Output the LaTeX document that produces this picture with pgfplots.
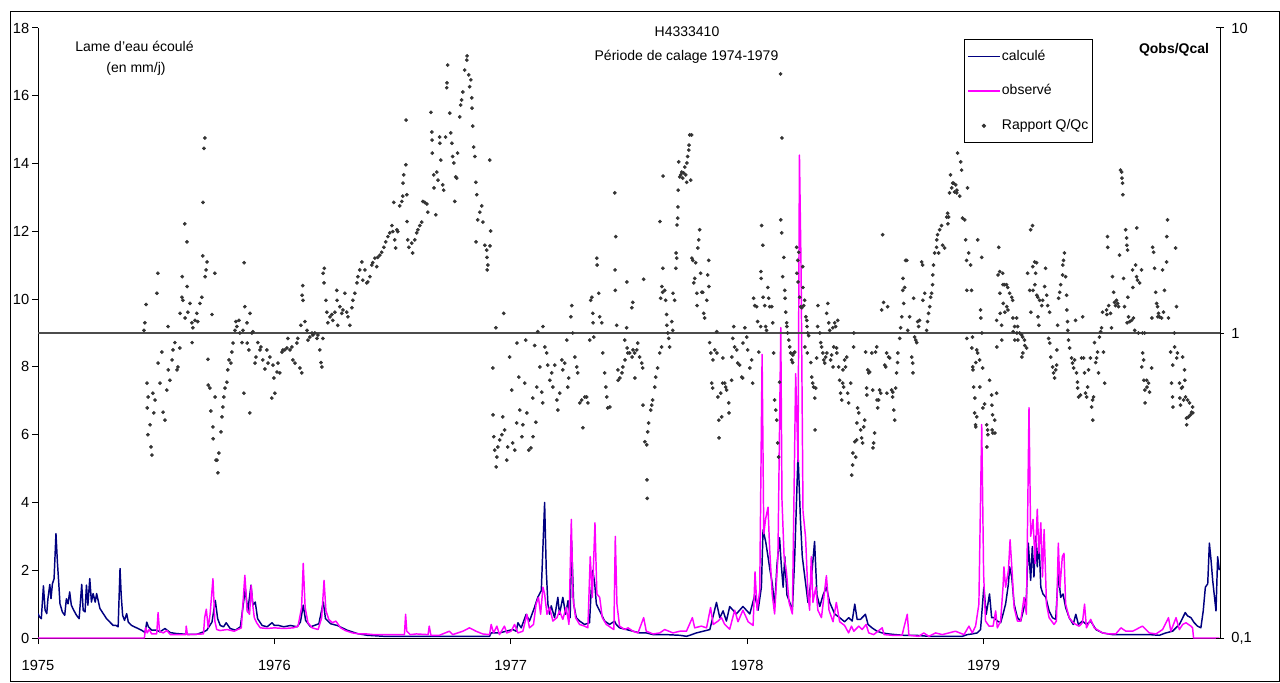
\documentclass[border=0pt]{standalone}
\usepackage{fontspec}
\setmainfont{Liberation Sans}
\usepackage{pgfplots}
\usepackage{pgfplotstable}
\pgfplotsset{compat=1.18}
\definecolor{calc}{HTML}{000080}
\definecolor{obs}{HTML}{FF00FF}
\definecolor{dots}{HTML}{333333}

\pgfplotstableread{
x y
1975.000 0.72
1975.007 0.62
1975.014 0.57
1975.023 1.54
1975.030 0.82
1975.037 0.72
1975.042 1.16
1975.050 1.58
1975.055 1.16
1975.061 1.60
1975.068 1.75
1975.076 3.08
1975.082 2.25
1975.088 1.60
1975.093 1.01
1975.103 0.77
1975.113 0.67
1975.120 1.16
1975.127 1.01
1975.134 1.36
1975.141 0.97
1975.151 0.82
1975.163 0.67
1975.174 0.57
1975.185 1.58
1975.191 0.82
1975.199 0.77
1975.205 1.56
1975.211 0.97
1975.219 1.75
1975.226 1.06
1975.233 1.31
1975.242 1.06
1975.248 1.31
1975.256 1.06
1975.262 0.87
1975.276 0.72
1975.290 0.57
1975.304 0.47
1975.318 0.37
1975.330 0.37
1975.339 0.33
1975.347 2.05
1975.352 1.26
1975.358 0.67
1975.366 0.52
1975.375 0.72
1975.382 0.47
1975.396 0.37
1975.417 0.30
1975.438 0.23
1975.453 0.16
1975.460 0.47
1975.467 0.33
1975.481 0.23
1975.502 0.23
1975.516 0.18
1975.537 0.28
1975.559 0.16
1975.587 0.13
1975.629 0.11
1975.672 0.11
1975.700 0.18
1975.714 0.23
1975.736 0.47
1975.750 1.11
1975.760 0.57
1975.771 0.37
1975.785 0.33
1975.796 0.45
1975.813 0.28
1975.835 0.23
1975.856 0.33
1975.877 1.46
1975.887 0.77
1975.901 1.56
1975.909 0.97
1975.919 1.06
1975.929 0.57
1975.948 0.37
1975.969 0.33
1975.990 0.45
1976.000 0.37
1976.018 0.37
1976.040 0.33
1976.068 0.37
1976.096 0.33
1976.110 0.47
1976.122 0.97
1976.132 0.52
1976.153 0.33
1976.188 0.42
1976.207 1.06
1976.216 0.57
1976.238 0.42
1976.266 0.37
1976.308 0.23
1976.351 0.13
1976.393 0.08
1976.464 0.05
1976.613 0.05
1976.910 0.05
1976.917 0.15
1976.952 0.15
1976.980 0.20
1977.008 0.25
1977.023 0.20
1977.030 0.45
1977.044 0.30
1977.065 0.70
1977.079 0.50
1977.100 0.90
1977.114 1.20
1977.129 1.40
1977.143 4.00
1977.150 2.00
1977.157 1.00
1977.164 0.70
1977.171 0.95
1977.185 0.60
1977.199 1.20
1977.206 0.70
1977.220 1.20
1977.232 0.70
1977.242 1.10
1977.251 0.60
1977.257 2.85
1977.266 1.00
1977.277 0.60
1977.291 0.50
1977.312 0.40
1977.333 0.45
1977.340 1.40
1977.347 2.00
1977.355 1.60
1977.362 1.00
1977.376 0.80
1977.397 0.50
1977.418 0.40
1977.439 0.50
1977.446 0.40
1977.460 0.30
1977.489 0.25
1977.517 0.20
1977.545 0.15
1977.573 0.15
1977.602 0.10
1977.658 0.10
1977.715 0.08
1977.743 0.05
1977.757 0.08
1977.785 0.15
1977.814 0.20
1977.842 0.25
1977.870 1.05
1977.884 0.60
1977.898 0.80
1977.912 0.50
1977.926 0.93
1977.940 0.82
1977.954 0.71
1977.982 0.93
1978.011 0.71
1978.032 1.27
1978.046 0.82
1978.060 1.50
1978.067 3.19
1978.078 2.85
1978.088 2.40
1978.095 2.06
1978.106 1.61
1978.116 0.93
1978.126 2.17
1978.137 2.96
1978.144 2.17
1978.152 1.50
1978.159 2.40
1978.168 1.27
1978.180 1.05
1978.191 0.82
1978.201 2.40
1978.215 5.44
1978.225 3.52
1978.233 2.40
1978.243 1.84
1978.257 1.05
1978.271 1.72
1978.285 2.85
1978.295 1.27
1978.307 0.93
1978.321 1.27
1978.335 1.50
1978.349 1.05
1978.370 0.71
1978.391 0.60
1978.412 0.48
1978.429 0.60
1978.444 0.50
1978.455 1.00
1978.465 0.55
1978.479 0.55
1978.500 0.70
1978.511 0.40
1978.528 0.30
1978.549 0.20
1978.571 0.15
1978.599 0.12
1978.627 0.10
1978.662 0.08
1978.712 0.08
1978.768 0.05
1978.839 0.05
1978.910 0.05
1978.931 0.10
1978.952 0.12
1978.973 0.15
1978.987 0.25
1979.001 1.50
1979.011 0.70
1979.025 1.30
1979.034 0.60
1979.044 0.60
1979.058 0.50
1979.072 0.45
1979.082 0.70
1979.093 1.00
1979.105 1.60
1979.110 2.10
1979.119 1.80
1979.129 1.00
1979.143 0.60
1979.157 0.50
1979.171 0.90
1979.181 1.20
1979.189 2.80
1979.199 1.70
1979.206 2.70
1979.213 1.80
1979.220 3.00
1979.227 2.10
1979.234 2.90
1979.242 1.50
1979.251 1.30
1979.263 1.20
1979.277 0.80
1979.291 0.60
1979.305 0.55
1979.316 1.90
1979.326 1.20
1979.336 1.30
1979.347 0.90
1979.362 0.60
1979.379 0.40
1979.390 0.70
1979.401 0.40
1979.418 0.50
1979.435 0.40
1979.453 0.50
1979.475 0.25
1979.503 0.15
1979.545 0.10
1979.588 0.10
1979.644 0.10
1979.701 0.10
1979.743 0.08
1979.771 0.15
1979.799 0.20
1979.828 0.40
1979.853 0.75
1979.863 0.65
1979.877 0.60
1979.891 0.45
1979.905 0.35
1979.919 0.30
1979.929 0.80
1979.938 1.50
1979.948 1.60
1979.955 2.80
1979.962 2.30
1979.969 1.70
1979.983 0.80
1979.990 2.40
1979.997 2.00
}\calcdata

\pgfplotstableread{
x y
1975.000 0.00
1975.450 0.00
1975.455 0.30
1975.462 0.15
1975.470 0.25
1975.481 0.12
1975.502 0.12
1975.508 0.75
1975.514 0.20
1975.530 0.15
1975.545 0.22
1975.560 0.10
1975.625 0.10
1975.627 0.35
1975.632 0.10
1975.700 0.12
1975.705 0.60
1975.712 0.85
1975.720 0.30
1975.728 0.70
1975.740 1.75
1975.748 0.50
1975.756 0.25
1975.770 0.22
1975.800 0.25
1975.830 0.20
1975.860 0.30
1975.875 1.85
1975.885 0.80
1975.895 0.70
1975.902 1.55
1975.908 1.00
1975.915 0.60
1975.925 0.45
1975.940 0.30
1975.970 0.28
1976.000 0.30
1976.040 0.28
1976.080 0.30
1976.100 0.35
1976.115 0.90
1976.122 2.20
1976.130 0.90
1976.142 0.45
1976.160 0.30
1976.185 0.25
1976.200 0.60
1976.210 1.70
1976.218 0.80
1976.230 0.55
1976.245 0.45
1976.260 0.50
1976.280 0.30
1976.300 0.22
1976.330 0.15
1976.360 0.12
1976.390 0.12
1976.420 0.10
1976.550 0.10
1976.555 0.70
1976.560 0.20
1976.575 0.10
1976.600 0.12
1976.650 0.10
1976.655 0.35
1976.662 0.08
1976.698 0.08
1976.740 0.20
1976.754 0.10
1976.797 0.20
1976.825 0.30
1976.853 0.20
1976.881 0.12
1976.910 0.10
1976.917 0.40
1976.927 0.15
1976.941 0.35
1976.952 0.10
1976.973 0.35
1976.983 0.15
1977.001 0.20
1977.016 0.40
1977.030 0.15
1977.051 0.20
1977.068 0.70
1977.079 0.30
1977.096 0.40
1977.107 1.00
1977.117 1.20
1977.126 0.70
1977.136 1.50
1977.143 1.30
1977.153 0.70
1977.164 0.90
1977.178 0.50
1977.195 0.60
1977.206 0.80
1977.220 0.55
1977.234 0.90
1977.246 0.40
1977.256 3.50
1977.263 1.20
1977.274 0.60
1977.291 0.40
1977.312 0.35
1977.326 0.30
1977.336 2.40
1977.345 1.20
1977.356 3.40
1977.364 1.30
1977.376 1.20
1977.387 0.60
1977.404 0.40
1977.425 0.30
1977.436 0.25
1977.442 3.00
1977.449 1.00
1977.460 0.35
1977.482 0.25
1977.496 0.30
1977.517 0.20
1977.538 0.15
1977.562 0.60
1977.573 0.20
1977.602 0.12
1977.630 0.15
1977.651 0.25
1977.686 0.15
1977.715 0.20
1977.743 0.20
1977.768 0.60
1977.778 0.30
1977.806 0.35
1977.828 0.30
1977.845 0.90
1977.856 0.40
1977.877 0.50
1977.891 0.60
1977.905 0.40
1977.926 0.26
1977.947 0.82
1977.961 0.48
1977.982 0.82
1978.004 0.48
1978.025 0.37
1978.033 1.95
1978.042 0.82
1978.053 1.39
1978.063 8.37
1978.070 3.07
1978.078 3.52
1978.088 3.86
1978.095 2.62
1978.106 1.27
1978.116 0.71
1978.130 2.40
1978.142 9.16
1978.147 4.09
1978.156 2.40
1978.166 1.95
1978.177 1.05
1978.191 0.71
1978.205 7.80
1978.215 5.20
1978.221 14.25
1978.228 10.80
1978.236 3.75
1978.247 2.96
1978.257 1.27
1978.264 0.82
1978.271 2.40
1978.278 1.05
1978.290 1.50
1978.299 0.82
1978.314 0.60
1978.335 1.84
1978.346 0.82
1978.363 0.48
1978.377 1.05
1978.391 0.48
1978.412 0.37
1978.429 0.15
1978.441 0.35
1978.451 0.20
1978.472 0.35
1978.486 0.25
1978.503 0.40
1978.514 0.15
1978.535 0.10
1978.571 0.30
1978.579 0.10
1978.613 0.08
1978.655 0.08
1978.677 0.70
1978.684 0.08
1978.726 0.05
1978.747 0.15
1978.768 0.05
1978.797 0.15
1978.825 0.10
1978.853 0.15
1978.881 0.20
1978.917 0.10
1978.938 0.35
1978.952 0.15
1978.966 0.35
1978.980 1.00
1978.992 6.30
1979.000 1.90
1979.008 0.50
1979.023 0.35
1979.040 0.35
1979.051 0.80
1979.058 0.30
1979.072 0.50
1979.082 1.50
1979.086 2.10
1979.093 1.50
1979.105 2.00
1979.112 2.90
1979.121 1.90
1979.129 0.90
1979.143 0.50
1979.157 0.50
1979.171 1.20
1979.181 0.70
1979.192 6.80
1979.199 3.00
1979.209 3.50
1979.218 2.20
1979.227 3.80
1979.234 2.50
1979.242 3.40
1979.249 1.80
1979.256 3.20
1979.266 1.00
1979.277 0.60
1979.298 0.40
1979.308 0.50
1979.316 2.80
1979.323 1.50
1979.333 2.40
1979.340 2.50
1979.347 1.00
1979.362 0.60
1979.379 0.45
1979.390 0.40
1979.404 0.35
1979.418 0.45
1979.427 1.00
1979.435 0.30
1979.453 0.55
1979.468 0.30
1979.503 0.15
1979.531 0.12
1979.559 0.12
1979.581 0.30
1979.602 0.20
1979.630 0.20
1979.658 0.30
1979.672 0.35
1979.701 0.15
1979.729 0.12
1979.757 0.25
1979.782 0.60
1979.792 0.20
1979.814 0.60
1979.828 0.25
1979.842 0.40
1979.856 0.45
1979.877 0.35
1979.884 0.30
1979.888 0.00
1979.997 0.00
}\obsdata

\pgfplotstableread{
x r
1975.452 1.08
1975.448 1.02
1975.457 1.24
1975.461 0.685
1975.462 0.568
1975.465 0.464
1975.478 0.423
1975.482 0.398
1975.474 0.50
1975.466 0.617
1975.486 0.635
1975.495 0.603
1975.490 0.547
1975.503 1.35
1975.507 1.57
1975.508 0.797
1975.516 0.685
1975.524 0.866
1975.529 0.55
1975.537 0.518
1975.545 0.65
1975.550 1.05
1975.551 0.757
1975.558 0.70
1975.567 0.816
1975.571 0.88
1975.579 0.93
1975.588 0.757
1975.592 0.774
1975.600 0.893
1975.601 1.16
1975.609 1.31
1975.610 1.53
1975.613 1.28
1975.622 1.12
1975.621 2.28
1975.630 1.99
1975.631 1.42
1975.634 1.17
1975.643 1.25
1975.651 1.08
1975.652 0.93
1975.655 1.04
1975.664 1.10
1975.672 1.16
1975.676 1.09
1975.685 1.25
1975.693 1.31
1975.698 2.68
1975.702 4.03
1975.706 4.36
1975.697 1.79
1975.707 1.53
1975.715 1.71
1975.711 1.61
1975.736 1.15
1975.748 1.57
1975.719 0.82
1975.720 0.675
1975.727 0.66
1975.731 0.555
1975.740 0.492
1975.741 0.45
1975.749 0.617
1975.753 0.383
1975.757 0.383
1975.761 0.348
1975.765 0.404
1975.774 0.474
1975.778 0.531
1975.782 0.572
1975.786 0.617
1975.791 0.66
1975.799 0.69
1975.803 0.757
1975.808 0.816
1975.816 0.797
1975.820 0.866
1975.825 0.927
1975.833 1.02
1975.837 1.09
1975.841 1.05
1975.850 1.10
1975.854 1.00
1975.863 0.93
1975.867 1.02
1975.871 0.635
1975.872 1.70
1975.875 1.22
1975.884 1.08
1975.885 0.927
1975.892 0.88
1975.896 0.547
1975.897 1.16
1975.905 1.00
1975.909 1.01
1975.918 0.797
1975.922 0.834
1975.930 0.93
1975.939 0.88
1975.943 0.90
1975.951 0.816
1975.960 0.762
1975.968 0.88
1975.973 0.797
1975.981 0.834
1975.989 0.612
1975.994 0.785
1975.998 0.712
1976.002 0.635
1976.011 0.745
1976.015 0.797
1976.023 0.74
1976.032 0.866
1976.036 0.88
1976.044 0.88
1976.053 0.893
1976.057 0.96
1976.066 0.88
1976.074 0.90
1976.078 0.816
1976.087 0.797
1976.095 0.927
1976.099 0.96
1976.108 0.768
1976.116 0.74
1976.112 1.06
1976.117 1.33
1976.120 1.43
1976.121 1.28
1976.129 1.09
1976.138 1.02
1976.142 0.948
1976.150 0.97
1976.159 1.00
1976.163 0.985
1976.171 1.00
1976.180 0.96
1976.184 0.985
1976.192 0.88
1976.197 0.80
1976.201 0.774
1976.205 0.96
1976.206 1.57
1976.210 1.46
1976.211 1.63
1976.218 1.28
1976.222 1.17
1976.226 1.08
1976.235 1.13
1976.243 1.15
1976.247 1.10
1976.256 1.17
1976.264 1.38
1976.265 1.28
1976.268 1.06
1976.277 1.22
1976.285 1.16
1976.290 1.19
1976.298 1.35
1976.306 1.17
1976.311 1.13
1976.319 1.06
1976.328 1.21
1976.332 1.28
1976.340 1.35
1976.349 1.46
1976.353 1.53
1976.361 1.61
1976.370 1.71
1976.374 1.49
1976.383 1.61
1976.391 1.46
1976.395 1.47
1976.404 1.53
1976.412 1.67
1976.416 1.70
1976.425 1.76
1976.433 1.65
1976.437 1.77
1976.446 1.80
1976.454 1.84
1976.463 1.91
1976.471 1.99
1976.480 2.07
1976.488 2.13
1976.497 2.25
1976.501 2.15
1976.509 2.02
1976.513 1.90
1976.518 2.18
1976.522 2.15
1976.505 2.68
1976.530 2.61
1976.539 2.70
1976.543 2.81
1976.544 3.10
1976.547 3.30
1976.556 3.56
1976.557 4.99
1976.560 2.84
1976.561 2.32
1976.564 2.02
1976.569 1.91
1976.581 1.97
1976.585 1.83
1976.594 2.02
1976.602 2.13
1976.607 2.18
1976.615 2.25
1976.623 2.31
1976.628 2.70
1976.636 2.68
1976.645 2.65
1976.649 2.49
1976.662 5.29
1976.666 4.56
1976.667 4.29
1976.668 3.89
1976.674 3.30
1976.675 2.99
1976.683 2.44
1976.687 3.37
1976.692 3.17
1976.699 4.39
1976.700 4.19
1976.704 3.69
1976.712 3.06
1976.716 2.94
1976.724 4.39
1976.729 6.37
1976.730 6.61
1976.733 7.56
1976.742 5.26
1976.746 4.53
1976.751 4.19
1976.754 3.79
1976.759 3.61
1976.763 2.70
1976.767 3.25
1976.771 3.22
1976.775 3.89
1976.784 5.11
1976.788 5.59
1976.792 5.81
1976.797 6.17
1976.805 7.28
1976.814 7.85
1976.815 8.10
1976.822 7.02
1976.826 6.42
1976.831 6.76
1976.835 5.90
1976.836 5.46
1976.839 4.77
1976.843 4.07
1976.848 3.79
1976.852 3.12
1976.856 2.84
1976.853 1.99
1976.860 2.35
1976.869 2.49
1976.877 2.61
1976.882 2.31
1976.890 1.94
1976.898 1.87
1976.899 1.77
1976.903 1.67
1976.911 3.69
1976.915 2.16
1976.912 1.93
1976.900 1.61
1976.924 0.768
1976.925 0.539
1976.937 1.04
1976.928 0.457
1976.932 0.413
1976.941 0.392
1976.938 0.364
1976.945 0.423
1976.953 0.446
1976.962 0.464
1976.966 0.531
1976.970 1.16
1976.974 0.481
1976.983 0.383
1976.987 0.423
1976.995 0.834
1977.004 0.65
1977.008 0.436
1977.017 0.413
1977.025 0.507
1977.026 0.927
1977.034 0.717
1977.038 0.559
1977.047 0.457
1977.051 0.50
1977.059 0.685
1977.063 0.948
1977.068 0.547
1977.076 0.413
1977.085 0.42
1977.093 0.612
1977.094 0.457
1977.101 0.91
1977.106 0.51
1977.110 0.665
1977.114 1.01
1977.123 0.774
1977.131 0.64
1977.135 0.59
1977.136 1.05
1977.144 0.90
1977.152 0.86
1977.156 0.785
1977.165 0.70
1977.173 0.74
1977.178 0.665
1977.186 0.785
1977.195 0.603
1977.199 0.559
1977.207 0.635
1977.216 0.816
1977.220 0.757
1977.228 0.797
1977.237 0.948
1977.241 0.665
1977.245 0.712
1977.254 1.13
1977.258 1.23
1977.262 1.00
1977.271 0.834
1977.279 0.774
1977.283 0.74
1977.292 0.59
1977.300 0.603
1977.305 0.489
1977.313 0.617
1977.321 0.617
1977.326 0.59
1977.334 0.948
1977.338 1.28
1977.343 1.31
1977.347 1.16
1977.348 1.08
1977.351 0.97
1977.364 1.76
1977.365 1.67
1977.372 1.35
1977.376 1.13
1977.385 1.08
1977.389 0.86
1977.397 0.74
1977.402 0.665
1977.406 0.617
1977.410 0.568
1977.419 0.572
1977.440 2.88
1977.444 2.07
1977.441 1.61
1977.442 1.38
1977.448 1.06
1977.453 0.757
1977.454 0.70
1977.490 1.04
1977.491 1.47
1977.512 1.21
1977.516 1.26
1977.482 0.948
1977.492 0.893
1977.495 0.86
1977.483 0.816
1977.474 0.774
1977.470 0.74
1977.461 0.712
1977.503 0.86
1977.513 0.834
1977.517 0.88
1977.524 0.86
1977.533 0.88
1977.537 0.927
1977.545 0.834
1977.554 0.797
1977.558 0.768
1977.525 0.712
1977.559 0.58
1977.562 1.50
1977.567 0.44
1977.575 0.43
1977.579 0.474
1977.583 0.507
1977.592 0.559
1977.596 0.58
1977.600 0.603
1977.576 0.33
1977.577 0.287
1977.609 0.665
1977.613 0.717
1977.621 0.768
1977.630 0.86
1977.638 0.90
1977.643 1.63
1977.644 3.27
1977.631 2.32
1977.634 1.30
1977.639 1.42
1977.642 1.36
1977.651 1.38
1977.655 1.28
1977.659 1.15
1977.660 1.06
1977.664 1.00
1977.668 0.96
1977.672 0.90
1977.681 1.09
1977.685 1.02
1977.686 1.35
1977.693 1.28
1977.698 1.63
1977.699 1.83
1977.702 1.76
1977.703 2.26
1977.706 2.38
1977.707 2.59
1977.708 2.94
1977.710 3.64
1977.715 3.25
1977.719 3.30
1977.723 3.37
1977.727 3.22
1977.731 3.35
1977.736 3.50
1977.740 3.30
1977.744 3.12
1977.745 3.61
1977.748 3.79
1977.753 3.98
1977.754 4.13
1977.757 4.46
1977.765 4.46
1977.761 3.17
1977.766 1.76
1977.770 1.73
1977.774 1.46
1977.778 1.51
1977.782 1.70
1977.787 1.35
1977.788 1.23
1977.791 1.90
1977.795 2.02
1977.799 2.18
1977.803 1.57
1977.808 1.36
1977.812 1.36
1977.816 1.16
1977.820 1.12
1977.829 1.28
1977.833 1.55
1977.837 1.73
1977.838 1.42
1977.841 0.93
1977.846 0.86
1977.850 0.685
1977.854 0.66
1977.855 0.816
1977.863 0.88
1977.871 1.01
1977.872 0.86
1977.880 0.518
1977.881 0.453
1977.876 0.617
1977.888 0.635
1977.892 0.531
1977.896 0.685
1977.905 0.685
1977.909 0.665
1977.913 0.65
1977.922 0.59
1977.923 0.547
1977.897 0.828
1977.934 0.70
1977.935 0.834
1977.939 0.96
1977.943 1.05
1977.947 0.90
1977.956 0.88
1977.960 0.797
1977.968 0.785
1977.977 0.717
1977.981 0.712
1977.982 0.927
1977.990 1.04
1977.998 0.97
1978.002 0.88
1978.011 0.768
1978.019 0.816
1978.023 0.685
1978.027 1.30
1978.032 1.23
1978.040 1.22
1978.044 1.09
1978.049 0.866
1978.057 1.05
1978.061 2.25
1978.066 1.94
1978.058 1.59
1978.059 1.51
1978.067 1.31
1978.074 1.23
1978.078 1.05
1978.082 1.02
1978.087 1.41
1978.091 1.30
1978.095 1.22
1978.104 1.22
1978.108 1.08
1978.112 0.86
1978.116 0.603
1978.121 0.559
1978.125 0.518
1978.129 0.436
1978.133 0.392
1978.137 0.69
1978.142 2.35
1978.146 2.13
1978.141 7.07
1978.147 4.36
1978.150 1.53
1978.155 1.77
1978.159 1.38
1978.160 1.30
1978.163 1.17
1978.167 1.08
1978.168 1.05
1978.171 1.00
1978.176 0.948
1978.180 0.90
1978.184 0.86
1978.188 0.816
1978.192 0.80
1978.193 0.847
1978.197 0.86
1978.201 0.866
1978.209 1.91
1978.210 1.57
1978.214 1.73
1978.215 1.47
1978.218 1.84
1978.222 1.31
1978.226 1.22
1978.231 1.21
1978.235 1.65
1978.236 1.41
1978.239 1.23
1978.243 1.28
1978.248 1.13
1978.252 1.10
1978.253 1.05
1978.256 1.00
1978.244 0.90
1978.254 0.86
1978.260 0.98
1978.269 0.80
1978.273 0.717
1978.277 0.685
1978.281 0.665
1978.286 0.612
1978.287 0.481
1978.290 0.66
1978.294 0.828
1978.298 1.05
1978.299 1.23
1978.307 1.00
1978.311 0.93
1978.315 0.90
1978.320 0.86
1978.324 0.816
1978.328 0.797
1978.332 0.834
1978.336 1.16
1978.337 0.86
1978.341 1.25
1978.345 1.08
1978.349 1.02
1978.353 0.816
1978.357 0.847
1978.362 1.04
1978.363 0.774
1978.366 0.90
1978.370 1.08
1978.374 1.05
1978.378 0.893
1978.379 0.86
1978.383 1.10
1978.387 0.774
1978.391 0.70
1978.395 0.635
1978.400 0.603
1978.404 0.685
1978.405 0.757
1978.408 0.665
1978.412 0.816
1978.416 0.774
1978.421 0.834
1978.425 0.635
1978.429 0.59
1978.438 0.685
1978.442 0.342
1978.446 0.369
1978.447 0.404
1978.450 0.90
1978.451 1.00
1978.455 0.44
1978.459 0.392
1978.463 0.446
1978.464 0.507
1978.467 0.568
1978.472 0.547
1978.480 0.481
1978.484 0.453
1978.488 0.436
1978.493 0.492
1978.497 0.518
1978.501 0.866
1978.505 0.66
1978.506 0.626
1978.510 0.757
1978.514 0.74
1978.518 0.745
1978.527 0.86
1978.531 0.65
1978.532 0.42
1978.535 0.436
1978.539 0.47
1978.543 0.866
1978.548 0.90
1978.549 0.603
1978.552 0.568
1978.556 0.603
1978.560 0.65
1978.565 0.635
1978.569 1.19
1978.573 2.10
1978.577 1.26
1978.582 0.785
1978.586 0.774
1978.590 0.86
1978.591 0.635
1978.594 1.22
1978.598 0.834
1978.603 0.828
1978.611 0.65
1978.615 0.617
1978.616 0.64
1978.620 0.559
1978.624 0.518
1978.628 0.66
1978.632 0.74
1978.636 0.80
1978.637 0.86
1978.645 0.96
1978.649 1.04
1978.654 1.13
1978.658 1.38
1978.659 1.51
1978.662 1.25
1978.666 1.41
1978.670 1.73
1978.675 1.73
1978.679 1.02
1978.687 1.13
1978.696 0.834
1978.700 0.797
1978.701 0.74
1978.704 1.30
1978.708 0.97
1978.713 0.948
1978.717 0.93
1978.721 1.09
1978.725 1.05
1978.729 1.10
1978.738 1.71
1978.742 1.67
1978.743 1.28
1978.751 1.35
1978.759 1.02
1978.763 1.09
1978.767 1.16
1978.772 1.22
1978.776 1.31
1978.780 1.35
1978.784 1.44
1978.785 1.55
1978.788 1.67
1978.793 1.83
1978.801 1.91
1978.802 2.02
1978.805 2.10
1978.810 1.83
1978.814 2.18
1978.822 2.25
1978.827 1.94
1978.835 1.90
1978.844 2.40
1978.848 2.47
1978.849 2.28
1978.852 2.40
1978.856 2.88
1978.860 3.30
1978.865 2.99
1978.869 3.10
1978.873 3.10
1978.877 2.90
1978.882 3.06
1978.886 2.88
1978.887 2.94
1978.890 3.89
1978.899 2.81
1978.903 3.64
1978.907 3.42
1978.911 2.38
1978.920 2.35
1978.924 2.02
1978.928 1.73
1978.929 1.38
1978.932 2.99
1978.937 1.83
1978.945 1.67
1978.949 1.38
1978.953 0.97
1978.954 0.774
1978.958 0.665
1978.962 0.547
1978.966 0.50
1978.971 0.88
1978.975 2.02
1978.992 1.77
1978.987 1.19
1978.988 1.12
1978.993 1.00
1978.929 0.96
1978.950 0.893
1978.975 0.86
1978.983 0.816
1978.967 0.80
1978.955 0.757
1978.996 0.768
1978.984 0.665
1978.963 0.612
1979.025 0.70
1979.034 0.626
1979.004 0.585
1978.997 0.568
1979.055 0.635
1979.035 0.58
1978.971 0.531
1979.038 0.539
1979.047 0.518
1978.967 0.492
1979.013 0.50
1979.017 0.481
1979.036 0.481
1979.039 0.47
1979.018 0.464
1979.014 0.423
1979.048 0.47
1979.064 1.91
1979.061 1.55
1979.068 1.59
1979.081 1.57
1979.082 1.44
1979.089 1.44
1979.097 1.44
1979.102 1.41
1979.110 1.35
1979.119 1.31
1979.123 1.28
1979.069 1.35
1979.083 1.25
1979.098 1.22
1979.103 1.19
1979.090 1.17
1979.070 1.16
1979.055 1.10
1979.076 1.06
1979.124 1.12
1979.140 1.12
1979.131 1.05
1979.144 1.05
1979.125 1.01
1979.141 1.00
1979.152 1.00
1979.161 0.985
1979.165 0.97
1979.132 0.948
1979.145 0.948
1979.173 0.948
1979.077 0.948
1979.056 0.90
1979.174 0.91
1979.182 0.893
1979.166 0.86
1979.162 0.834
1979.186 1.57
1979.195 1.38
1979.199 2.18
1979.207 2.25
1979.208 1.65
1979.216 1.71
1979.224 1.70
1979.220 1.57
1979.209 1.38
1979.217 1.44
1979.225 1.33
1979.229 1.31
1979.237 1.28
1979.246 1.23
1979.250 1.28
1979.258 1.42
1979.262 1.63
1979.267 1.33
1979.271 1.23
1979.279 1.17
1979.200 1.17
1979.230 1.13
1979.234 1.06
1979.275 0.96
1979.280 0.927
1979.284 0.834
1979.292 0.774
1979.296 0.74
1979.300 0.712
1979.305 0.757
1979.309 0.785
1979.310 0.88
1979.313 1.06
1979.317 1.30
1979.322 1.36
1979.326 1.44
1979.334 1.55
1979.335 1.67
1979.338 1.73
1979.342 1.83
1979.347 1.53
1979.351 1.33
1979.352 1.19
1979.355 1.09
1979.356 1.02
1979.359 0.948
1979.364 0.893
1979.372 0.828
1979.376 0.797
1979.381 0.768
1979.385 0.816
1979.389 1.10
1979.393 0.74
1979.397 0.69
1979.398 0.66
1979.402 0.617
1979.410 0.626
1979.414 0.828
1979.419 1.13
1979.423 0.828
1979.427 0.74
1979.431 0.635
1979.436 0.617
1979.440 0.665
1979.444 0.757
1979.452 0.828
1979.457 0.572
1979.461 0.603
1979.462 0.518
1979.465 0.617
1979.469 0.93
1979.474 0.80
1979.478 0.828
1979.482 0.866
1979.486 0.74
1979.490 0.97
1979.495 1.01
1979.499 1.04
1979.503 1.17
1979.507 0.866
1979.512 0.685
1979.520 1.19
1979.521 1.15
1979.524 2.07
1979.525 1.91
1979.529 1.23
1979.537 1.16
1979.541 1.04
1979.545 1.53
1979.550 1.36
1979.554 1.26
1979.558 1.23
1979.562 1.28
1979.567 1.25
1979.571 1.22
1979.579 3.42
1979.584 3.37
1979.585 3.22
1979.588 3.10
1979.589 2.84
1979.575 1.80
1979.592 1.51
1979.596 1.22
1979.601 2.18
1979.605 2.05
1979.606 1.94
1979.609 1.87
1979.610 1.31
1979.607 1.08
1979.613 1.13
1979.618 1.09
1979.626 1.10
1979.630 1.61
1979.631 1.41
1979.634 1.12
1979.639 1.02
1979.643 1.67
1979.647 1.53
1979.648 2.21
1979.651 1.49
1979.655 1.00
1979.660 1.46
1979.668 1.61
1979.672 1.00
1979.673 0.86
1979.677 0.816
1979.681 1.00
1979.669 0.774
1979.678 0.70
1979.682 0.65
1979.690 0.70
1979.691 0.665
1979.698 0.685
1979.702 0.64
1979.683 0.59
1979.711 0.768
1979.712 1.12
1979.715 1.91
1979.719 1.84
1979.723 1.63
1979.728 1.36
1979.732 1.25
1979.736 1.22
1979.737 1.13
1979.740 1.16
1979.744 1.13
1979.753 1.12
1979.757 1.61
1979.761 1.17
1979.765 1.38
1979.774 1.71
1979.775 2.07
1979.778 2.35
1979.782 1.12
1979.791 0.866
1979.795 0.685
1979.799 0.617
1979.800 0.785
1979.801 0.572
1979.807 1.00
1979.812 1.90
1979.816 1.22
1979.808 0.90
1979.817 0.828
1979.820 0.86
1979.829 0.685
1979.833 0.58
1979.837 0.66
1979.841 0.665
1979.842 0.834
1979.846 0.603
1979.850 0.757
1979.854 0.617
1979.858 0.526
1979.859 0.50
1979.863 0.603
1979.867 0.531
1979.871 0.59
1979.875 0.539
1979.880 0.55
1979.884 0.572
1979.885 0.547
1979.851 0.70
1979.830 0.612
}\ratiodata

\begin{document}
\begin{tikzpicture}[font=\fontsize{10.5}{12.6}\selectfont]
\pgfplotsset{
  every axis/.append style={
    at={(28.5pt,33pt)}, anchor=south west, scale only axis,
    width=886.5pt, height=457.5pt,
    xmin=1975, xmax=1980,
    axis line style={line width=0.75pt},
    major tick style={line width=0.75pt, black},
    /pgf/number format/assume math mode=true,
  },
}
\begin{scope}[x=0.75pt,y=0.75pt]
\useasboundingbox (0,0) rectangle (1280,682);
\draw[line width=0.75pt] (10.5,0.5) rectangle (1279.5,670.5);
\end{scope}

\begin{axis}[
  ymin=0, ymax=18,
  axis x line*=bottom, axis y line*=left,
  xtick={1975,1976,1977,1978,1979},
  xticklabel style={/pgf/number format/1000 sep=, yshift=-9pt, font=\fontsize{11}{13}\selectfont},
  ytick={0,2,...,18},
  yticklabel style={xshift=1.5pt, font=\fontsize{11}{13}\selectfont},
  tick align=outside, major tick length=4.5pt,
  clip=true,
]
\addplot[calc, line width=1.1pt, line join=round] table[x=x,y=y] {\calcdata};
\addplot[obs, line width=1.1pt, line join=round] table[x=x,y=y] {\obsdata};
\end{axis}

\begin{axis}[
  ymode=log, ymin=0.1, ymax=10,
  axis x line=none, axis y line*=right,
  ytick={0.1,1,10}, yticklabels={{0,1},{1},{10}},
  yminorticks=false,
  tick align=center, major tick length=6pt,
  yticklabel style={xshift=2pt, font=\fontsize{11}{13}\selectfont},
  legend image code/.code={\draw[mark repeat=2,mark phase=2,#1] plot coordinates {(0pt,0pt) (12pt,0pt) (24pt,0pt)};},
  legend style={at={(0.7834,0.982)}, anchor=north west, draw=black, line width=0.75pt,
    inner xsep=2pt, inner ysep=6.5pt, row sep=13.5pt,
    nodes={inner sep=1pt, text height=8pt, text depth=2.5pt},
    font=\fontsize{10.5}{12.6}\selectfont},
  legend cell align=left,
]
\addplot[black!70, line width=1.2pt, forget plot] coordinates {(1975,1) (1980,1)};
\addlegendimage{calc, line width=1.1pt}
\addlegendentry{calculé}
\addlegendimage{obs, line width=1.1pt}
\addlegendentry{observé}
\addplot[only marks, mark=*, mark size=1.2pt, dots, mark options={draw=dots, fill=dots}] table[x=x,y=r] {\ratiodata};
\addlegendentry{Rapport Q/Qc}
\end{axis}

\begin{scope}[x=0.75pt,y=0.75pt]
\node at (134.5,636) {Lame d'eau écoulé};
\node at (136,613) {(en mm/j)};
\node at (687,650) {H4333410};
\node at (686.5,625) {Période de calage 1974-1979};
\node[font=\fontsize{10.5}{12.6}\selectfont\bfseries] at (1174,632) {Qobs/Qcal};
\end{scope}
\end{tikzpicture}
\end{document}
